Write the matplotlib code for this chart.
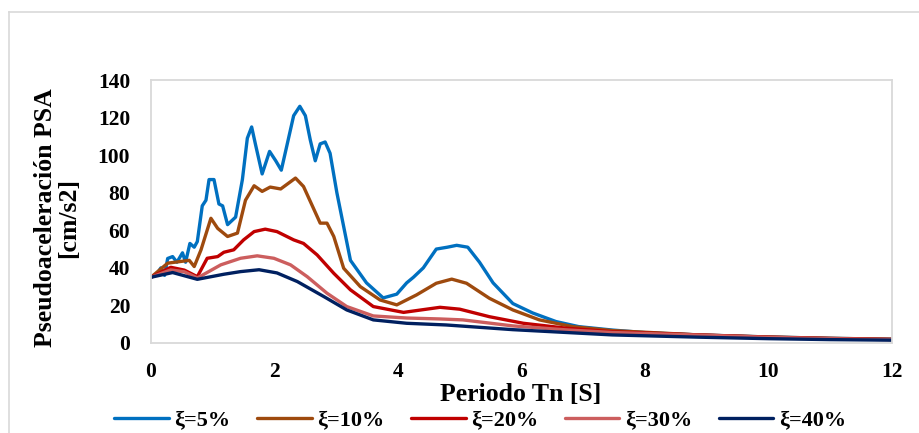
import matplotlib.pyplot as plt
from matplotlib.lines import Line2D

plt.rcParams['font.family'] = ['Liberation Serif', 'DejaVu Serif']
plt.rcParams['font.weight'] = 'bold'

# Pseudo-acceleration spectra (T in s, PSA in cm/s2)
t_05 = [0, 0.1, 0.16, 0.22, 0.27, 0.35, 0.42, 0.51, 0.56, 0.63, 0.70, 0.75, 0.83, 0.89, 0.94,
        1.02, 1.10, 1.16, 1.24, 1.37, 1.48, 1.56, 1.63, 1.69, 1.80, 1.92, 2.02, 2.11, 2.20,
        2.31, 2.41, 2.50, 2.58, 2.66, 2.74, 2.82, 2.90, 3.01, 3.12, 3.23, 3.49, 3.76, 3.98,
        4.14, 4.25, 4.41, 4.62, 4.80, 4.95, 5.13, 5.32, 5.54, 5.86, 6.18, 6.56, 6.93, 7.47,
        8.01, 8.87, 10, 11, 12]
psa_05 = [35, 37, 40, 36, 45, 46, 43, 48, 43, 53, 51, 54, 73, 76, 87,
          87, 74, 73, 63, 67, 87, 109, 115, 106, 90, 102, 97, 92, 105,
          121, 126, 121, 108, 97, 106, 107, 101, 80, 62, 44, 32, 24, 26,
          32, 35, 40, 50, 51, 52, 51, 43, 32, 21, 16, 11.4, 8.7, 6.9,
          5.5, 4.3, 3.2, 2.5, 2]

t_10 = [0, 0.27, 0.48, 0.62, 0.70, 0.81, 0.97, 1.08, 1.24, 1.40, 1.53, 1.67, 1.80, 1.93, 2.10,
        2.34, 2.47, 2.74, 2.85, 2.96, 3.12, 3.39, 3.71, 3.98, 4.30, 4.62, 4.87, 5.11, 5.48,
        5.86, 6.29, 6.83, 7.47, 8.87, 10, 11, 12]
psa_10 = [35, 42.5, 43.4, 44, 40.7, 49.6, 66.4, 61, 56.7, 58.5, 76, 83.7, 80.7, 83, 82,
          87.8, 83.3, 63.8, 63.8, 56.7, 39.8, 30, 22.9, 20.3, 25.6, 31.8, 34, 31.8, 23.8,
          17.6, 12.3, 8.7, 6.6, 4.3, 3.2, 2.5, 2]

t_20 = [0, 0.32, 0.54, 0.75, 0.91, 1.08, 1.18, 1.34, 1.50, 1.67, 1.85, 2.04, 2.31, 2.47, 2.69,
        2.96, 3.23, 3.60, 4.09, 4.68, 5.0, 5.48, 6.03, 6.72, 7.47, 8.87, 10, 11, 12]
psa_20 = [35, 40.3, 38.8, 35.3, 45.1, 46, 48.3, 49.6, 54.9, 59.3, 60.6, 59.3, 54.9, 53, 46.9,
          37.1, 28.3, 19.4, 16.3, 19, 18, 14, 10.5, 7.9, 6, 4.3, 3.1, 2.4, 1.9]

t_30 = [0, 0.32, 0.54, 0.75, 1.13, 1.45, 1.72, 1.99, 2.26, 2.53, 2.85, 3.17, 3.60, 4.14, 4.68,
        5.05, 5.86, 6.72, 7.47, 8.87, 10, 11, 12]
psa_30 = [35, 38.9, 37.9, 34.6, 41.6, 45.1, 46.4, 45.1, 41.6, 35.3, 26.5, 19.4, 14.4, 13.3, 12.8,
          12.3, 9.1, 7, 5.6, 4.2, 3, 2.3, 1.8]

t_40 = [0, 0.35, 0.75, 1.18, 1.45, 1.75, 2.04, 2.37, 2.80, 3.17, 3.60, 4.14, 4.78, 5.86, 7.47,
        8.87, 10, 11, 12]
psa_40 = [35, 37.5, 33.9, 36.6, 38, 39, 37.3, 32.7, 24.7, 17.6, 12.3, 10.5, 9.6, 7.1, 4.3,
          3.1, 2.3, 1.8, 1.5]

labels = ['ξ=5%', 'ξ=10%', 'ξ=20%', 'ξ=30%', 'ξ=40%']
colors = ['#0070C0', '#9E4A0E', '#C00000', '#CC5E5E', '#002060']

fig = plt.figure(figsize=(9.2, 4.33), dpi=100)
ax = fig.add_axes([151 / 920, 1 - 343 / 433, 741 / 920, 263 / 433])

series = [(t_05, psa_05), (t_10, psa_10), (t_20, psa_20), (t_30, psa_30), (t_40, psa_40)]
for (t, v), lab, c in zip(series, labels, colors):
    ax.plot(t, v, color=c, lw=2.4, label=lab, solid_capstyle='round', solid_joinstyle='round')

ax.set_xlim(0, 12)
ax.set_ylim(0, 140)
ax.set_xticks(range(0, 13, 2))
ax.set_yticks(range(0, 141, 20))
ax.tick_params(length=0, labelsize=15.5)
ax.tick_params(axis='x', pad=14)
ax.tick_params(axis='y', pad=15)
for s in ax.spines.values():
    s.set_color('#d9d9d9')
    s.set_linewidth(1.3)

# outer chart frame (Excel chart area)
fig.add_artist(Line2D([9 / 920, 1.0], [1 - 11.5 / 433] * 2, color='#d9d9d9', lw=1.2))
fig.add_artist(Line2D([9 / 920] * 2, [0, 1 - 11.5 / 433], color='#d9d9d9', lw=1.2))

fig.text(521 / 920, 1 - 395 / 433, 'Periodo Tn [S]', ha='center', va='center', fontsize=18.5)
fig.text(57 / 920, 1 - 218 / 433, 'Pseudoaceleración PSA\n[cm/s2]', rotation=90,
         ha='center', va='center', multialignment='center', fontsize=18.5, linespacing=1.05)

fig.legend(loc='center', bbox_to_anchor=(0.522, 1 - 420 / 433), ncol=5, frameon=False,
           fontsize=16, handlelength=2.45, handletextpad=0.25, columnspacing=1.2)

fig.savefig('out.png', dpi=100)
